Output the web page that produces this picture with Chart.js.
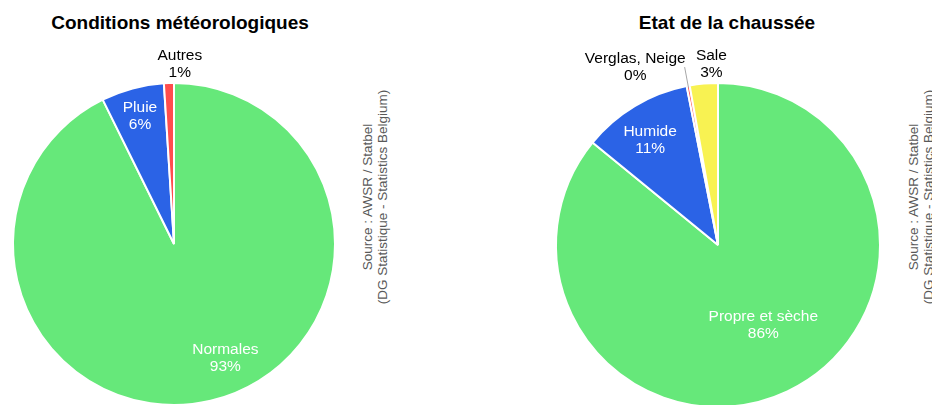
<!DOCTYPE html>
<html>
<head>
<meta charset="utf-8">
<script src="https://cdn.jsdelivr.net/npm/chart.js@4/dist/chart.umd.min.js"></script>
<style>
  html, body { margin: 0; padding: 0; background: #fff; overflow: hidden; }
  body { width: 932px; height: 405px; position: relative; font-family: "Liberation Sans", Arial, sans-serif; }
  .box { position: absolute; top: 0; }
  .title { position: absolute; top: 12px; font-weight: bold; font-size: 19px; color: #000; white-space: nowrap; transform: translateX(-50%); }
  .src { position: absolute; width: 260px; height: 30px; line-height: 15px; font-size: 13.5px; color: #595959; text-align: center; white-space: nowrap; transform: rotate(-90deg); }
</style>
</head>
<body>
<div class="title" style="left:180px">Conditions météorologiques</div>
<div class="title" style="left:727px">Etat de la chaussée</div>
<div class="src" style="left:245px; top:182px">Source : AWSR / Statbel<br>(DG Statistique - Statistics Belgium)</div>
<div class="src" style="left:791px; top:182px">Source : AWSR / Statbel<br>(DG Statistique - Statistics Belgium)</div>
<div class="box" style="left:0; width:350px; height:430px"><canvas id="meteo"></canvas></div>
<div class="box" style="left:540px; width:360px; height:430px"><canvas id="route"></canvas></div>
<script>
// Conditions météorologiques
var meteoLabels = ["Normales", "Pluie", "Autres"];
var meteoValues = [92.7, 6.3, 1.0];
var meteoPct = ["93%", "6%", "1%"];

// Etat de la chaussée
var routeLabels = ["Propre et sèche", "Humide", "Verglas, Neige", "Sale"];
var routeValues = [85.9, 11.0, 0.3, 2.8];
var routePct = ["86%", "11%", "0%", "3%"];

var GREEN = "#66E87A", BLUE = "#2B63E6", RED = "#FF4D4D", YELLOW = "#F8F252";

// dessine les étiquettes (dans / hors des parts)
var pieLabels = {
    id: "pieLabels",
    afterDatasetsDraw: function (chart) {
        var ctx = chart.ctx;
        var o = chart.options.plugins.pieLabels;
        var arcs = chart.getDatasetMeta(0).data;
        ctx.save();
        ctx.font = "15.5px 'Liberation Sans', Arial, sans-serif";
        ctx.textAlign = "center";
        ctx.textBaseline = "middle";
        for (var i = 0; i < arcs.length; i++) {
            var a = arcs[i];
            var p = o.place[i];
            var mid = (a.startAngle + a.endAngle) / 2 + (p.da || 0) * Math.PI / 180;
            var lines = [chart.data.labels[i], o.pct[i]];
            var lh = 17;
            if (p.type == "in") {
                var r = a.outerRadius * p.r;
                var x = a.x + Math.cos(mid) * r, y = a.y + Math.sin(mid) * r;
                ctx.fillStyle = "#fff";
                ctx.fillText(lines[0], x, y - lh / 2);
                ctx.fillText(lines[1], x, y + lh / 2);
            } else if (p.type == "out") {
                var r = a.outerRadius + 4;
                var x = a.x + Math.cos(mid) * r + (p.dx || 0), y = a.y + Math.sin(mid) * r;
                ctx.fillStyle = "#000";
                ctx.fillText(lines[0], x, y - lh * 1.5 + 2);
                ctx.fillText(lines[1], x, y - lh / 2 + 2);
            } else {
                var r1 = a.outerRadius - 2, r2 = a.outerRadius + 19;
                var x1 = a.x + Math.cos(mid) * r1, y1 = a.y + Math.sin(mid) * r1;
                var x2 = a.x + Math.cos(mid) * r2, y2 = a.y + Math.sin(mid) * r2;
                ctx.strokeStyle = "#A6A6A6";
                ctx.lineWidth = 1;
                ctx.beginPath();
                ctx.moveTo(x1, y1);
                ctx.lineTo(x2, y2);
                ctx.stroke();
                var w = Math.max(ctx.measureText(lines[0]).width, ctx.measureText(lines[1]).width);
                var cx = x2 - w / 2 + 1;
                ctx.fillStyle = "#000";
                ctx.fillText(lines[0], cx, y2 - lh / 2);
                ctx.fillText(lines[1], cx, y2 + lh / 2);
            }
        }
        ctx.restore();
    }
};

function makePie(id, labels, values, pct, colors, pad, place) {
    return new Chart(document.getElementById(id), {
        type: "pie",
        data: {
            labels: labels,
            datasets: [{
                data: values,
                backgroundColor: colors,
                borderColor: "#fff",
                borderWidth: 2
            }]
        },
        options: {
            responsive: true,
            maintainAspectRatio: false,
            animation: false,
            layout: { padding: pad },
            plugins: {
                legend: { display: false },
                tooltip: { enabled: false },
                pieLabels: { pct: pct, place: place }
            }
        },
        plugins: [pieLabels]
    });
}

makePie("meteo", meteoLabels, meteoValues, meteoPct, [GREEN, BLUE, RED],
    { top: 82, bottom: 24, left: 12, right: 14 },
    [{ type: "in", r: 0.78, da: -11 }, { type: "in", r: 0.82 }, { type: "out", dx: 11 }]);

makePie("route", routeLabels, routeValues, routePct, [GREEN, BLUE, RED, YELLOW],
    { top: 82, bottom: 22, left: 15, right: 19 },
    [{ type: "in", r: 0.57, da: -4 }, { type: "in", r: 0.77, da: -2 }, { type: "leader" }, { type: "out", dx: 8 }]);
</script>
</body>
</html>
